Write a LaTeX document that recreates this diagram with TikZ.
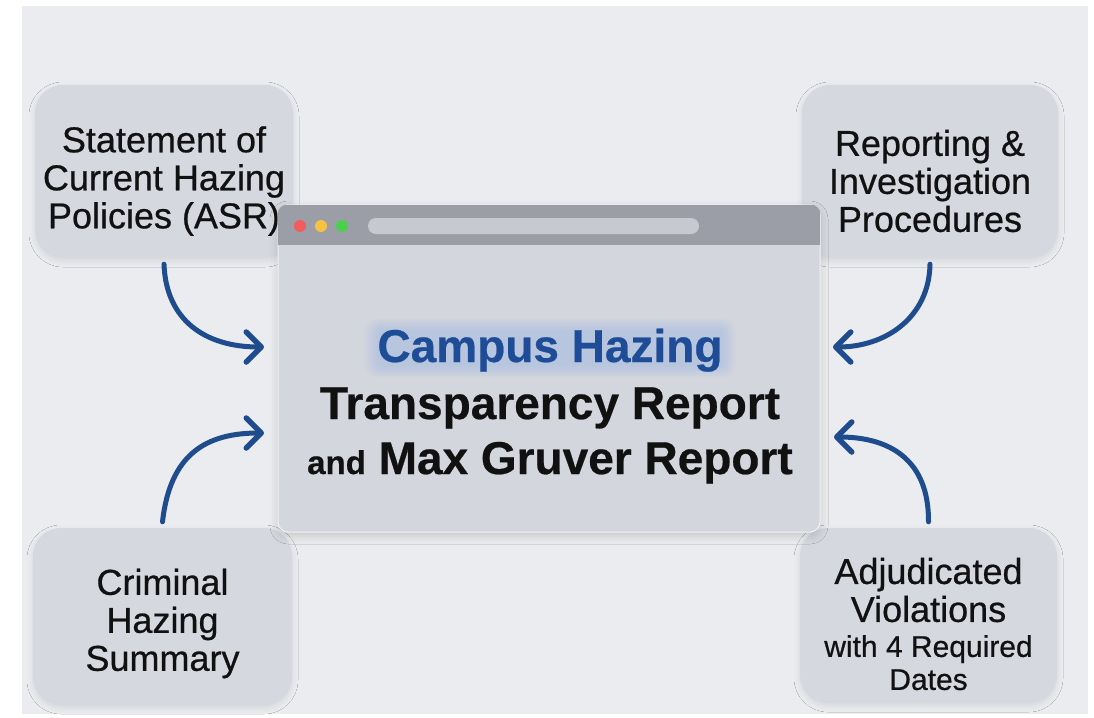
\documentclass[tikz,border=0pt]{standalone}
\usepackage{fontspec}
\setmainfont{Liberation Sans}
\newfontface\cardfont{Liberation Sans}[FakeBold=0.6]
\newfontface\headfont{Liberation Sans Bold}[FakeBold=0.5]
\usetikzlibrary{arrows.meta,shadows.blur}

\definecolor{panelbg}{HTML}{EBECEF}
\definecolor{boxfill}{HTML}{D5D8DE}
\definecolor{winfill}{HTML}{D3D6DC}
\definecolor{titlebar}{HTML}{9B9EA6}
\definecolor{addrbar}{HTML}{C6C9CF}
\definecolor{arrowblue}{HTML}{1F4C8C}
\definecolor{titleblue}{HTML}{1E4C96}
\definecolor{glowblue}{HTML}{8FB4F5}
\definecolor{inkblack}{HTML}{111111}
\definecolor{dotred}{HTML}{F25C5C}
\definecolor{dotyellow}{HTML}{F5C242}
\definecolor{dotgreen}{HTML}{4CD04C}

\begin{document}
\begin{tikzpicture}[x=1pt,y=-1pt,
  infobox/.style={rounded corners=28pt, fill=boxfill, inner sep=0pt,
    blur shadow={shadow xshift=0pt, shadow yshift=-3pt, shadow blur radius=6pt, shadow opacity=9}},
  boxtext/.style={align=center, text=inkblack, font=\cardfont\fontsize{36}{38}\selectfont},
  headline/.style={anchor=base, font=\headfont\fontsize{46}{50}\selectfont},
  flow/.style={draw=arrowblue, line width=5pt, line cap=round,
    -{Straight Barb[length=15pt,width=30pt,round,line width=5.5pt]}}]

\useasboundingbox (0,0) rectangle (1094,717);
\fill[white] (0,0) rectangle (1094,717);
\fill[panelbg] (22,6) rectangle (1088,714);

% Four topic cards
\node[infobox, minimum width=258pt, minimum height=173pt] (stmt) at (164,171.5) {};
\node[infobox, minimum width=256pt, minimum height=173pt] (rep) at (930,171.5) {};
\node[infobox, minimum width=259pt, minimum height=177pt] (crim) at (162.5,616.5) {};
\node[infobox, minimum width=257pt, minimum height=175pt] (adj) at (928.5,615.5) {};

\node[boxtext] (stmt-t) at (164,181) {Statement of\\Current Hazing\\Policies (ASR)};
\node[boxtext] (rep-t) at (930,181) {Reporting \&\\Investigation\\Procedures};
\node[boxtext] (crim-t) at (162.5,623.5) {Criminal\\Hazing\\Summary};
\node[boxtext] (adj-t) at (928.5,624) {Adjudicated\\Violations\\[-3pt]{\fontsize{30}{32}\selectfont with 4 Required}\\[-5pt]{\fontsize{30}{32}\selectfont Dates}};

% Browser window
\node[rounded corners=10pt, fill=winfill, draw=white!70!winfill, line width=1pt,
  minimum width=542pt, minimum height=327pt, inner sep=0pt,
  blur shadow={shadow xshift=0pt, shadow yshift=-4pt, shadow blur radius=8pt, shadow opacity=16}]
  (win) at (549,368.5) {};
\begin{scope}
  \clip[rounded corners=10pt] (win.north west) rectangle (win.south east);
  \fill[titlebar] (win.north west) rectangle ([yshift=-40pt]win.north east);
\end{scope}
\fill[dotred] (300,226) circle (6);
\fill[dotyellow] (321,226) circle (6);
\fill[dotgreen] (342,226) circle (6);
\fill[addrbar, rounded corners=8pt] (368,218) rectangle (699,234);

% Soft blue halo behind the first headline line
\foreach \i in {0,...,9}{
  \fill[glowblue, opacity=0.045, rounded corners={14pt-\i*1pt}]
    ({364+\i*1.6},{318+\i*1.4}) rectangle ({736-\i*1.6},{378-\i*1.4});
}
\node[headline, text=titleblue] (t1) at (550,362) {Campus Hazing};
\node[headline, text=inkblack] (t2) at (550,419) {Transparency Report};
\node[headline, text=inkblack] (t3) at (550,474) {{\fontsize{33}{36}\selectfont and} Max Gruver Report};

% Arrows into the window
\coordinate (in-nw) at (264,347);
\coordinate (in-sw) at (264,433);
\coordinate (in-ne) at (833,347);
\coordinate (in-se) at (834,437);
\draw[flow] ([yshift=-6pt]stmt.south) .. controls (166,320) and (205,347) .. (in-nw);
\draw[flow] ([yshift=6pt]crim.north) .. controls (170,455) and (205,433) .. (in-sw);
\draw[flow] ([yshift=-6pt]rep.south) .. controls (929,318) and (885,347) .. (in-ne);
\draw[flow] ([yshift=6pt]adj.north) .. controls (929,460) and (890,437) .. (in-se);

\end{tikzpicture}
\end{document}
